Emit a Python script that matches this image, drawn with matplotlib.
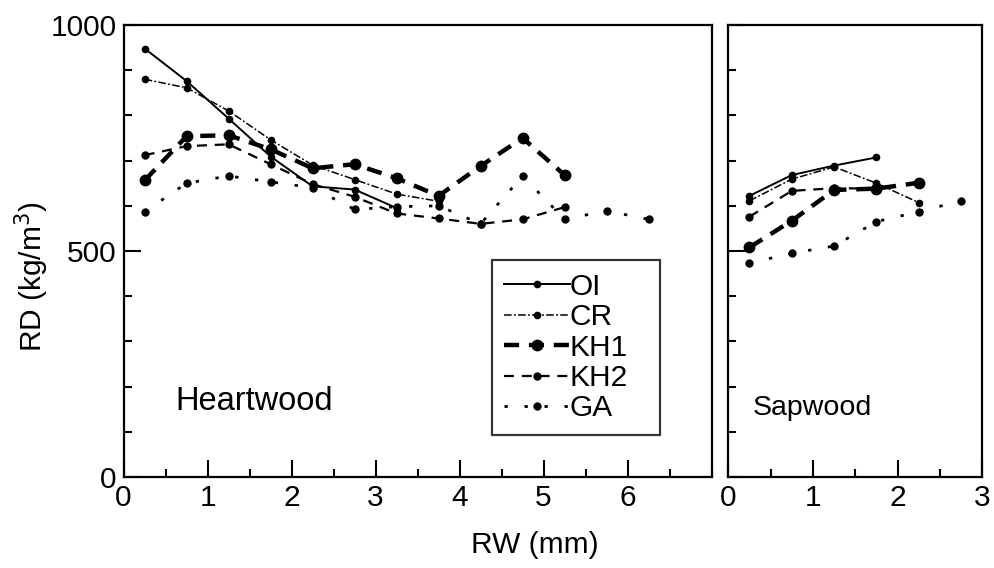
import matplotlib
matplotlib.use("Agg")
import matplotlib.pyplot as plt
from matplotlib.ticker import MultipleLocator

plt.rcParams['font.family'] = ['Liberation Sans', 'DejaVu Sans']

# ---------------- data ----------------
x_heart = [0.25, 0.75, 1.25, 1.75, 2.25, 2.75, 3.25, 3.75, 4.25, 4.75, 5.25, 5.75, 6.25]
heart_OI = [948, 876, 793, 709, 643, 636, 595]
heart_CR = [880, 861, 810, 746, 690, 658, 626, 610]
heart_KH1 = [656, 754, 756, 725, 683, 692, 661, 622, 688, 750, 668]
heart_KH2 = [712, 732, 736, 692, 648, 620, 583, 572, 560, 570, 597]
heart_GA = [587, 650, 666, 653, 640, 592, 598, 600, 560, 666, 570, 589, 570]

x_sap = [0.25, 0.75, 1.25, 1.75, 2.25, 2.75]
sap_OI = [622, 668, 689, 707]
sap_CR = [611, 659, 686, 650, 607]
sap_KH1 = [508, 567, 635, 638, 651]
sap_KH2 = [576, 633, 639, 638]
sap_GA = [473, 495, 511, 565, 587, 611]

series_names = ['OI', 'CR', 'KH1', 'KH2', 'GA']
heart_series = [heart_OI, heart_CR, heart_KH1, heart_KH2, heart_GA]
sap_series = [sap_OI, sap_CR, sap_KH1, sap_KH2, sap_GA]

x_ticks_heart = [0, 1, 2, 3, 4, 5, 6]
x_ticks_sap = [0, 1, 2, 3]
y_ticks = [0, 500, 1000]

# ---------------- styles ----------------
styles = {
    'OI': dict(linestyle='-', linewidth=1.4, marker='o', markersize=4.5),
    'CR': dict(linestyle=(0, (5, 1.5, 1.2, 1.5)), linewidth=1.1, marker='o', markersize=4.5),
    'KH1': dict(linestyle=(0, (3.4, 2.2)), linewidth=3.2, marker='o', markersize=7.5),
    'KH2': dict(linestyle=(0, (4.5, 3.5)), linewidth=1.6, marker='o', markersize=5),
    'GA': dict(linestyle=(0, (1.2, 6)), linewidth=2.0, marker='o', markersize=5),
}

W, H = 995, 568
fig = plt.figure(figsize=(W / 100, H / 100), dpi=100)
bottom = (H - 477) / H
height = 452 / H
ax1 = fig.add_axes([123.6 / W, bottom, 588 / W, height])
ax2 = fig.add_axes([728.3 / W, bottom, 254 / W, height])

FS = 21.5

handles = []
for name, ys in zip(series_names, heart_series):
    ln, = ax1.plot(x_heart[:len(ys)], ys, color='black', label=name, **styles[name])
    handles.append(ln)
for name, ys in zip(series_names, sap_series):
    ax2.plot(x_sap[:len(ys)], ys, color='black', **styles[name])

for ax, xmax, xt in [(ax1, 7, x_ticks_heart), (ax2, 3, x_ticks_sap)]:
    ax.set_xlim(0, xmax)
    ax.set_ylim(0, 1000)
    ax.set_xticks(xt)
    ax.xaxis.set_minor_locator(MultipleLocator(0.5))
    ax.set_yticks(y_ticks)
    ax.yaxis.set_minor_locator(MultipleLocator(100))
    ax.tick_params(axis='both', which='major', direction='in', length=12, width=1.5,
                   labelsize=FS, pad=5, top=False, right=False)
    ax.tick_params(axis='both', which='minor', direction='in', length=6, width=1.5,
                   top=False, right=False)
    for sp in ax.spines.values():
        sp.set_linewidth(1.6)

ax2.tick_params(axis='y', which='both', labelleft=False)

fig.text(32 / W, 1 - 277 / H, 'RD (kg/m$^3$)', fontsize=FS, rotation=90,
         ha='center', va='center')
fig.text(535 / W, 1 - 545 / H, 'RW (mm)', fontsize=FS, ha='center', va='center')

ax1.text((175 - 123.6) / 588, (477 - 402) / 452, 'Heartwood', fontsize=23.5,
         transform=ax1.transAxes, ha='left', va='center')
ax2.text((753 - 728.3) / 254, (477 - 408) / 452, 'Sapwood', fontsize=20.5,
         transform=ax2.transAxes, ha='left', va='center')

leg_x0 = (491.7 - 123.6) / 588
leg_y0 = (477 - 435) / 452
leg_w = (660 - 491.7) / 588
leg = ax1.legend(handles=handles, loc='lower left', mode='expand',
                 bbox_to_anchor=(leg_x0, leg_y0, leg_w, 0.3),
                 borderaxespad=0, fontsize=FS, numpoints=1, handlelength=2.2,
                 handletextpad=0.0, labelspacing=0.08, borderpad=0.42,
                 frameon=True, fancybox=False)
leg.get_frame().set_edgecolor('black')
leg.get_frame().set_linewidth(1.6)

fig.savefig('out.png', dpi=100)
